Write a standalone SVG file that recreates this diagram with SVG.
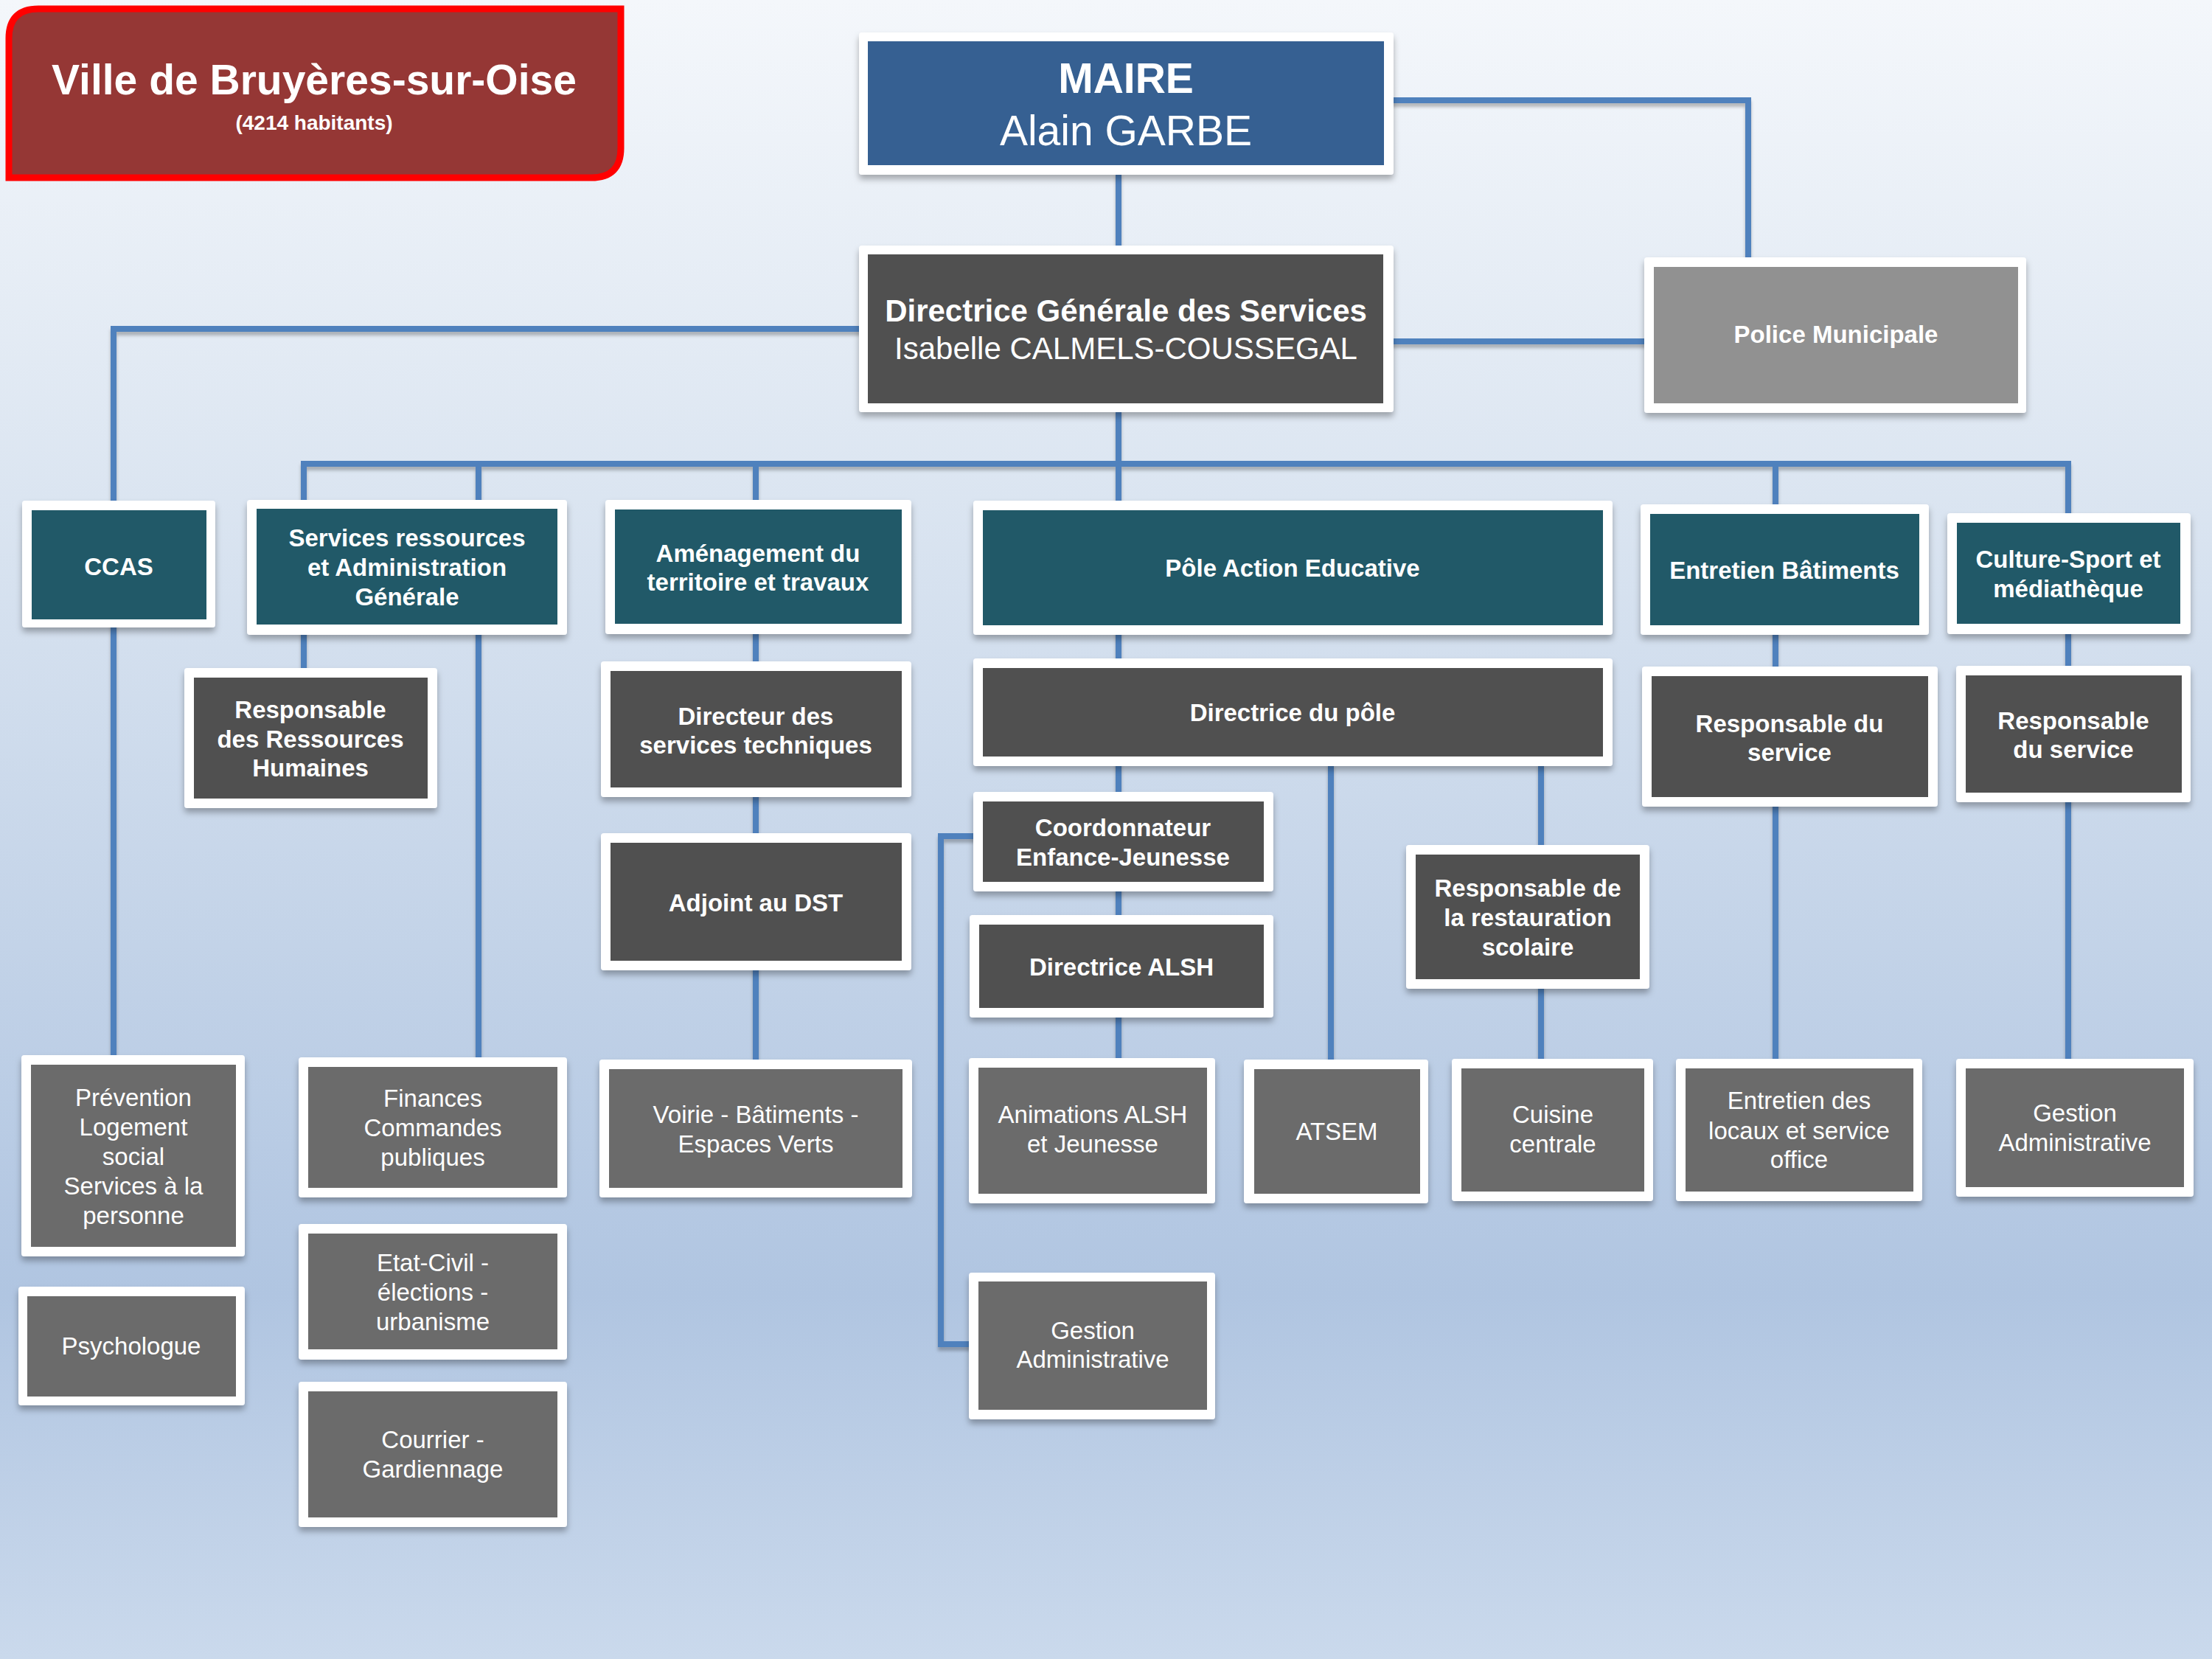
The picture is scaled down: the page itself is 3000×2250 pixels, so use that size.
<svg xmlns="http://www.w3.org/2000/svg" width="3000" height="2250" viewBox="0 0 3000 2250">
<defs>
<linearGradient id="bg" x1="0" y1="0" x2="0" y2="1">
<stop offset="0" stop-color="#f4f7fb"/>
<stop offset="0.3" stop-color="#dbe5f1"/>
<stop offset="0.78" stop-color="#b0c5e1"/>
<stop offset="1" stop-color="#cad9ec"/>
</linearGradient>
<filter id="sh" x="-10%" y="-10%" width="120%" height="130%">
<feDropShadow dx="0" dy="6" stdDeviation="4" flood-color="#000" flood-opacity="0.3"/>
</filter>
<filter id="lsh" x="-5%" y="-5%" width="110%" height="110%">
<feDropShadow dx="0" dy="5" stdDeviation="2" flood-color="#000" flood-opacity="0.25"/>
</filter>
</defs>
<style>
.frame{fill:#ffffff;filter:url(#sh)}
.teal{fill:#215968}
.dark{fill:#505050}
.gray{fill:#6b6b6b}
.police{fill:#919191}
.blue{fill:#366092}
.conn{fill:none;stroke:#4f81bd;stroke-width:8;stroke-linecap:square}
text{font-family:"Liberation Sans",Arial,sans-serif;fill:#ffffff;text-anchor:middle}
.b{font-weight:bold;font-size:33px}
.r{font-weight:normal;font-size:33px}
</style>
<rect x="0" y="0" width="3000" height="2250" fill="url(#bg)"/>

<g id="title">
<path d="M52 12 H842 V201 Q842 241 802 241 H12 V52 Q12 12 52 12 Z" fill="#953735" stroke="#ff0000" stroke-width="9"/>
<text x="426" y="128" font-weight="bold" font-size="57">Ville de Bruyères-sur-Oise</text>
<text x="426" y="176" font-weight="bold" font-size="28">(4214 habitants)</text>
</g>

<g id="connectors" filter="url(#lsh)">
<path class="conn" d="M1517 237 V333"/>
<path class="conn" d="M1890 136 H2371 V349"/>
<path class="conn" d="M1890 463 H2230"/>
<path class="conn" d="M1165 446 H154 V1431"/>
<path class="conn" d="M1517 559 V1435"/>
<path class="conn" d="M412 629 H2805"/>
<path class="conn" d="M412 629 V906"/>
<path class="conn" d="M649 629 V1434"/>
<path class="conn" d="M1025 629 V1437"/>
<path class="conn" d="M2408 629 V1436"/>
<path class="conn" d="M2805 629 V1436"/>
<path class="conn" d="M1805 1039 V1437"/>
<path class="conn" d="M2090 1039 V1436"/>
<path class="conn" d="M1320 1134 H1276 V1823 H1314"/>
</g>

<g id="maire">
<rect class="frame" x="1165" y="44" width="725" height="193" rx="4"/>
<rect class="blue" x="1177" y="56" width="700" height="168"/>
<text x="1527" y="126" font-weight="bold" font-size="57">MAIRE</text>
<text x="1527" y="197" font-size="57">Alain GARBE</text>
</g>

<g id="dgs">
<rect class="frame" x="1165" y="333" width="725" height="226" rx="4"/>
<rect class="dark" x="1177" y="345" width="699" height="202"/>
<text x="1527" y="436" font-weight="bold" font-size="42">Directrice Générale des Services</text>
<text x="1527" y="487" font-size="42">Isabelle CALMELS-COUSSEGAL</text>
</g>

<g id="police">
<rect class="frame" x="2230" y="349" width="518" height="211" rx="4"/>
<rect class="police" x="2243" y="362" width="494" height="185"/>
<text class="b" x="2490" y="465">Police Municipale</text>
</g>

<g id="ccas">
<rect class="frame" x="30" y="679" width="262" height="172" rx="4"/>
<rect class="teal" x="43" y="692" width="237" height="148"/>
<text class="b" x="161" y="780">CCAS</text>
</g>

<g id="services-ressources">
<rect class="frame" x="335" y="678" width="434" height="183" rx="4"/>
<rect class="teal" x="348" y="690" width="408" height="157"/>
<text class="b" x="552" y="741">Services ressources</text>
<text class="b" x="552" y="781">et Administration</text>
<text class="b" x="552" y="821">Générale</text>
</g>

<g id="resp-rh">
<rect class="frame" x="250" y="906" width="343" height="190" rx="4"/>
<rect class="dark" x="263" y="919" width="317" height="164"/>
<text class="b" x="421" y="974">Responsable</text>
<text class="b" x="421" y="1014">des Ressources</text>
<text class="b" x="421" y="1053">Humaines</text>
</g>

<g id="amenagement">
<rect class="frame" x="821" y="678" width="415" height="182" rx="4"/>
<rect class="teal" x="834" y="691" width="389" height="155"/>
<text class="b" x="1028" y="762">Aménagement du</text>
<text class="b" x="1028" y="801">territoire et travaux</text>
</g>

<g id="directeur-st">
<rect class="frame" x="815" y="897" width="421" height="184" rx="4"/>
<rect class="dark" x="828" y="910" width="395" height="158"/>
<text class="b" x="1025" y="983">Directeur des</text>
<text class="b" x="1025" y="1022">services techniques</text>
</g>

<g id="adjoint-dst">
<rect class="frame" x="815" y="1130" width="421" height="186" rx="4"/>
<rect class="dark" x="828" y="1143" width="395" height="160"/>
<text class="b" x="1025" y="1236">Adjoint au DST</text>
</g>

<g id="pole-action-educative">
<rect class="frame" x="1320" y="679" width="867" height="182" rx="4"/>
<rect class="teal" x="1333" y="692" width="841" height="156"/>
<text class="b" x="1753" y="782">Pôle Action Educative</text>
</g>

<g id="entretien-batiments">
<rect class="frame" x="2225" y="684" width="391" height="177" rx="4"/>
<rect class="teal" x="2238" y="697" width="365" height="151"/>
<text class="b" x="2420" y="785">Entretien Bâtiments</text>
</g>

<g id="culture-sport">
<rect class="frame" x="2641" y="696" width="330" height="164" rx="4"/>
<rect class="teal" x="2654" y="709" width="303" height="137"/>
<text class="b" x="2805" y="770">Culture-Sport et</text>
<text class="b" x="2805" y="810">médiathèque</text>
</g>

<g id="directrice-pole">
<rect class="frame" x="1320" y="893" width="867" height="146" rx="4"/>
<rect class="dark" x="1333" y="906" width="841" height="120"/>
<text class="b" x="1753" y="978">Directrice du pôle</text>
</g>

<g id="resp-service-entretien">
<rect class="frame" x="2227" y="904" width="401" height="190" rx="4"/>
<rect class="dark" x="2240" y="917" width="375" height="164"/>
<text class="b" x="2427" y="993">Responsable du</text>
<text class="b" x="2427" y="1032">service</text>
</g>

<g id="resp-service-culture">
<rect class="frame" x="2653" y="903" width="318" height="185" rx="4"/>
<rect class="dark" x="2666" y="916" width="293" height="159"/>
<text class="b" x="2812" y="989">Responsable</text>
<text class="b" x="2812" y="1028">du service</text>
</g>

<g id="coordonnateur">
<rect class="frame" x="1320" y="1074" width="407" height="135" rx="4"/>
<rect class="dark" x="1333" y="1087" width="381" height="109"/>
<text class="b" x="1523" y="1134">Coordonnateur</text>
<text class="b" x="1523" y="1174">Enfance-Jeunesse</text>
</g>

<g id="directrice-alsh">
<rect class="frame" x="1315" y="1241" width="412" height="139" rx="4"/>
<rect class="dark" x="1328" y="1254" width="386" height="113"/>
<text class="b" x="1521" y="1323">Directrice ALSH</text>
</g>

<g id="resp-restauration">
<rect class="frame" x="1907" y="1146" width="330" height="195" rx="4"/>
<rect class="dark" x="1920" y="1159" width="304" height="169"/>
<text class="b" x="2072" y="1216">Responsable de</text>
<text class="b" x="2072" y="1256">la restauration</text>
<text class="b" x="2072" y="1296">scolaire</text>
</g>

<g id="prevention">
<rect class="frame" x="29" y="1431" width="303" height="273" rx="4"/>
<rect class="gray" x="42" y="1444" width="278" height="247"/>
<text class="r" x="181" y="1500">Prévention</text>
<text class="r" x="181" y="1540">Logement</text>
<text class="r" x="181" y="1580">social</text>
<text class="r" x="181" y="1620">Services à la</text>
<text class="r" x="181" y="1660">personne</text>
</g>

<g id="psychologue">
<rect class="frame" x="25" y="1745" width="307" height="161" rx="4"/>
<rect class="gray" x="37" y="1758" width="283" height="136"/>
<text class="r" x="178" y="1837">Psychologue</text>
</g>

<g id="finances">
<rect class="frame" x="405" y="1434" width="364" height="190" rx="4"/>
<rect class="gray" x="418" y="1447" width="338" height="164"/>
<text class="r" x="587" y="1501">Finances</text>
<text class="r" x="587" y="1541">Commandes</text>
<text class="r" x="587" y="1581">publiques</text>
</g>

<g id="etat-civil">
<rect class="frame" x="405" y="1660" width="364" height="184" rx="4"/>
<rect class="gray" x="418" y="1673" width="338" height="157"/>
<text class="r" x="587" y="1724">Etat-Civil -</text>
<text class="r" x="587" y="1764">élections -</text>
<text class="r" x="587" y="1804">urbanisme</text>
</g>

<g id="courrier">
<rect class="frame" x="405" y="1874" width="364" height="197" rx="4"/>
<rect class="gray" x="418" y="1887" width="338" height="171"/>
<text class="r" x="587" y="1964">Courrier -</text>
<text class="r" x="587" y="2004">Gardiennage</text>
</g>

<g id="voirie">
<rect class="frame" x="813" y="1437" width="424" height="187" rx="4"/>
<rect class="gray" x="826" y="1450" width="398" height="161"/>
<text class="r" x="1025" y="1523">Voirie - Bâtiments -</text>
<text class="r" x="1025" y="1563">Espaces Verts</text>
</g>

<g id="animations">
<rect class="frame" x="1314" y="1435" width="334" height="197" rx="4"/>
<rect class="gray" x="1327" y="1448" width="310" height="171"/>
<text class="r" x="1482" y="1523">Animations ALSH</text>
<text class="r" x="1482" y="1563">et Jeunesse</text>
</g>

<g id="atsem">
<rect class="frame" x="1687" y="1437" width="250" height="195" rx="4"/>
<rect class="gray" x="1701" y="1450" width="225" height="169"/>
<text class="r" x="1813" y="1546">ATSEM</text>
</g>

<g id="cuisine">
<rect class="frame" x="1969" y="1436" width="273" height="193" rx="4"/>
<rect class="gray" x="1982" y="1449" width="248" height="167"/>
<text class="r" x="2106" y="1523">Cuisine</text>
<text class="r" x="2106" y="1563">centrale</text>
</g>

<g id="entretien-locaux">
<rect class="frame" x="2273" y="1436" width="334" height="193" rx="4"/>
<rect class="gray" x="2286" y="1449" width="309" height="167"/>
<text class="r" x="2440" y="1504">Entretien des</text>
<text class="r" x="2440" y="1545">locaux et service</text>
<text class="r" x="2440" y="1584">office</text>
</g>

<g id="gestion-admin-culture">
<rect class="frame" x="2653" y="1436" width="322" height="187" rx="4"/>
<rect class="gray" x="2666" y="1449" width="296" height="161"/>
<text class="r" x="2814" y="1521">Gestion</text>
<text class="r" x="2814" y="1561">Administrative</text>
</g>

<g id="gestion-admin-pole">
<rect class="frame" x="1314" y="1726" width="334" height="199" rx="4"/>
<rect class="gray" x="1327" y="1738" width="310" height="174"/>
<text class="r" x="1482" y="1816">Gestion</text>
<text class="r" x="1482" y="1855">Administrative</text>
</g>
</svg>
